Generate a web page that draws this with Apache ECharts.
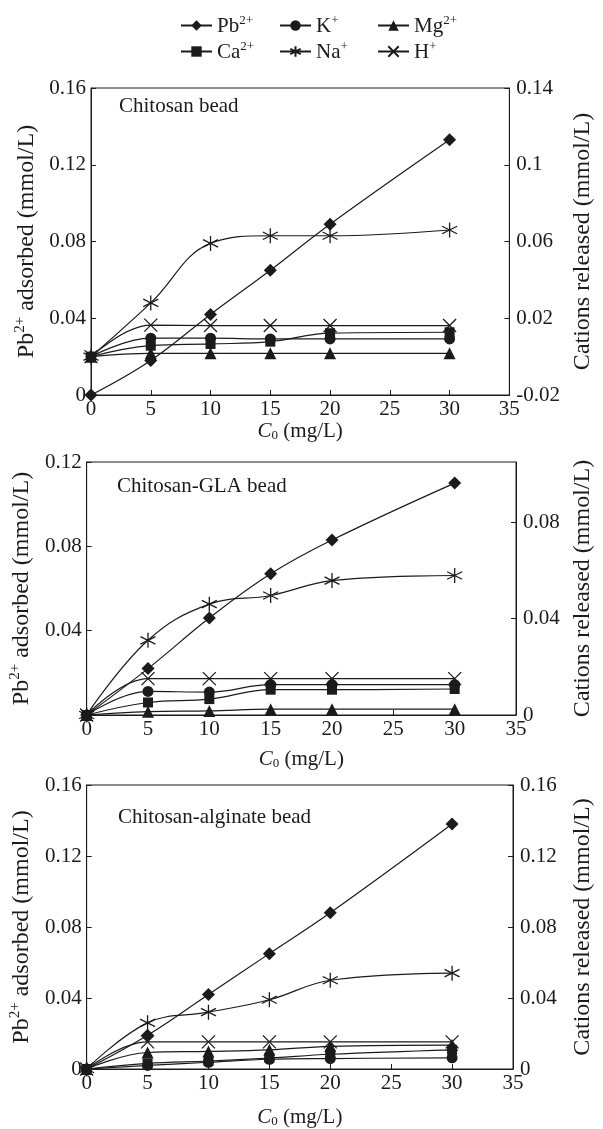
<!DOCTYPE html>
<html>
<head>
<meta charset="utf-8">
<script src="https://cdn.jsdelivr.net/npm/echarts@6/dist/echarts.min.js"></script>
<style>
html,body{margin:0;padding:0;background:#fff;}
#c{width:603px;height:1129px;}
</style>
</head>
<body>
<div id="c"></div>
<script>
// ---------------- data ----------------
const C0 = [0, 5, 10, 15, 20, 30];               // initial Pb2+ concentration (mg/L)
const panelTitles = ['Chitosan bead', 'Chitosan-GLA bead', 'Chitosan-alginate bead'];
const ionNames = ['Pb2+', 'K+', 'Mg2+', 'Ca2+', 'Na+', 'H+'];
const ionBase = ['Pb', 'K', 'Mg', 'Ca', 'Na', 'H'];
const ionCharge = ['2+', '+', '2+', '2+', '+', '+'];

// Chitosan bead
const pbChitosan = [0, 0.018, 0.042, 0.065, 0.089, 0.133];
const kChitosan  = [0, 0.0096, 0.0096, 0.0092, 0.0092, 0.0092];
const mgChitosan = [0, 0.0017, 0.0017, 0.0017, 0.0017, 0.0017];
const caChitosan = [0, 0.0057, 0.0066, 0.0078, 0.0122, 0.0127];
const naChitosan = [0, 0.028, 0.059, 0.063, 0.063, 0.066];
const hChitosan  = [0, 0.0164, 0.0162, 0.0162, 0.0162, 0.0162];

// Chitosan-GLA bead
const pbGLA = [0, 0.022, 0.046, 0.067, 0.083, 0.110];
const kGLA  = [0, 0.0098, 0.0095, 0.0126, 0.0126, 0.0126];
const mgGLA = [0, 0.0014, 0.0017, 0.0024, 0.0024, 0.0024];
const caGLA = [0, 0.0052, 0.0066, 0.0105, 0.0105, 0.0108];
const naGLA = [0, 0.031, 0.046, 0.0496, 0.0558, 0.0579];
const hGLA  = [0, 0.0151, 0.0151, 0.0151, 0.0151, 0.0151];

// Chitosan-alginate bead
const pbAlg = [0, 0.019, 0.042, 0.065, 0.088, 0.138];
const kAlg  = [0, 0.002, 0.0038, 0.0055, 0.0059, 0.0063];
const mgAlg = [0, 0.0093, 0.0099, 0.0108, 0.0128, 0.0135];
const caAlg = [0, 0.0032, 0.0045, 0.0062, 0.0083, 0.0108];
const naAlg = [0, 0.026, 0.032, 0.039, 0.050, 0.054];
const hAlg  = [0, 0.0153, 0.0153, 0.0153, 0.0153, 0.0153];

// axis ranges [min, max, interval]
const xRange = [0, 35, 5];
const leftRanges  = [[0, 0.16, 0.04], [0, 0.12, 0.04], [0, 0.16, 0.04]];
const rightRanges = [[-0.02, 0.14, 0.04], [0, 0.105, 0.04], [0, 0.16, 0.04]];

// ---------------- styling ----------------
const F = 'Liberation Serif';
const INK = '#1b1b1b';
const FS = 21;
const NFS = 24;

const rich = {
  n:   {fontFamily: F, fontSize: FS, color: INK, verticalAlign: 'bottom'},
  s:   {fontFamily: F, fontSize: 13, color: INK, verticalAlign: 'bottom', padding: [0, 0, 10, 0]},
  i:   {fontFamily: F, fontSize: FS, color: INK, fontStyle: 'italic', verticalAlign: 'bottom'},
  sub: {fontFamily: F, fontSize: 13, color: INK, verticalAlign: 'bottom'},
  N:   {fontFamily: F, fontSize: NFS, color: INK, verticalAlign: 'bottom'},
  S:   {fontFamily: F, fontSize: 15, color: INK, verticalAlign: 'bottom', padding: [0, 0, 11, 0]}
};

const ASTERISK = 'path://M5,0L5,10M0.7,2.5L9.3,7.5M0.7,7.5L9.3,2.5';
const CROSS = 'path://M0,0L10,10M0,10L10,0';

const symbols = {
  'Pb2+': {symbol: 'diamond', size: 13, hollow: false},
  'K+':   {symbol: 'circle', size: 11, hollow: false},
  'Mg2+': {symbol: 'triangle', size: 12, hollow: false},
  'Ca2+': {symbol: 'rect', size: 10, hollow: false},
  'Na+':  {symbol: ASTERISK, size: 15, hollow: true},
  'H+':   {symbol: CROSS, size: 13, hollow: true}
};

const grids = [
  {left: 91, right: 70, top: 88, height: 307},
  {left: 83, right: 67, top: 462, height: 253},
  {left: 83, right: 71, top: 785, height: 297}
];
const xNameGaps = [23, 34, 38];
const leftNameGaps = [48, 42, 44];
const rightNameGaps = [55, 55, 58];

function mkSeries(name, arr, g, right) {
  const s = symbols[name];
  return {
    type: 'line',
    name: name,
    xAxisIndex: g,
    yAxisIndex: 2 * g + (right ? 1 : 0),
    data: C0.map((x, i) => [x, arr[i]]),
    smooth: 0.4,
    symbol: s.symbol,
    symbolSize: s.size,
    showAllSymbol: true,
    lineStyle: {color: INK, width: 1.2},
    itemStyle: s.hollow
      ? {color: 'rgba(0,0,0,0)', borderColor: INK, borderWidth: 1.3}
      : {color: INK, borderWidth: 0},
    emphasis: {disabled: true},
    animation: false
  };
}

const panelData = [
  [pbChitosan, kChitosan, mgChitosan, caChitosan, naChitosan, hChitosan],
  [pbGLA, kGLA, mgGLA, caGLA, naGLA, hGLA],
  [pbAlg, kAlg, mgAlg, caAlg, naAlg, hAlg]
];

const series = [];
panelData.forEach((arrs, g) => {
  arrs.forEach((arr, k) => {
    series.push(mkSeries(ionNames[k], arr, g, k !== 0));
  });
});

const xAxes = grids.map((gr, g) => ({
  type: 'value', gridIndex: g,
  min: xRange[0], max: xRange[1], interval: xRange[2],
  axisLine: {show: true, lineStyle: {color: INK, width: 1}},
  axisTick: {show: true, inside: true, length: 5, lineStyle: {color: INK}},
  axisLabel: {fontFamily: F, fontSize: FS, color: INK, margin: 4},
  splitLine: {show: false},
  name: '{i|C}{sub|0}{n| (mg/L)}',
  nameLocation: 'middle',
  nameGap: xNameGaps[g],
  nameTextStyle: {rich: rich}
}));

const yAxes = [];
grids.forEach((gr, g) => {
  const L = leftRanges[g], R = rightRanges[g];
  yAxes.push({
    type: 'value', gridIndex: g, position: 'left',
    min: L[0], max: L[1], interval: L[2],
    axisLine: {show: true, lineStyle: {color: INK, width: 1}},
    axisTick: {show: true, inside: true, length: 5, lineStyle: {color: INK}},
    axisLabel: {fontFamily: F, fontSize: FS, color: INK, margin: 5, showMinLabel: g !== 1},
    splitLine: {show: false},
    name: '{N|Pb}{S|2+}{N| adsorbed (mmol/L)}',
    nameLocation: 'middle', nameRotate: 90, nameGap: leftNameGaps[g],
    nameTextStyle: {rich: rich}
  });
  yAxes.push({
    type: 'value', gridIndex: g, position: 'right',
    min: R[0], max: R[1], interval: R[2],
    axisLine: {show: true, lineStyle: {color: INK, width: 1}},
    axisTick: {show: true, inside: true, length: 5, lineStyle: {color: INK}},
    axisLabel: {fontFamily: F, fontSize: FS, color: INK, margin: 7, showMaxLabel: g !== 1},
    splitLine: {show: false},
    name: 'Cations released (mmol/L)',
    nameLocation: 'middle', nameRotate: 90, nameGap: rightNameGaps[g],
    nameTextStyle: {fontFamily: F, fontSize: NFS, color: INK}
  });
});

const legendPos = [
  {left: 180, top: 14}, {left: 279, top: 14}, {left: 377, top: 14},
  {left: 180, top: 40}, {left: 279, top: 40}, {left: 377, top: 40}
];
const legends = ionNames.map((nm, k) => ({
  data: [nm],
  left: legendPos[k].left, top: legendPos[k].top,
  padding: 0,
  itemWidth: 31, itemHeight: 13, itemGap: 0,
  selectedMode: false,
  formatter: () => '{n|' + ionBase[k] + '}{s|' + ionCharge[k] + '}',
  textStyle: {fontFamily: F, fontSize: FS, color: INK, rich: rich}
}));

const titles = panelTitles.map((t, g) => ({
  text: t,
  left: [119, 117, 118][g],
  top: [96, 476, 807][g],
  padding: 0,
  textStyle: {fontFamily: F, fontSize: FS, fontWeight: 'normal', color: INK}
}));

const chart = echarts.init(document.getElementById('c'), null, {renderer: 'canvas'});
chart.setOption({
  animation: false,
  backgroundColor: '#ffffff',
  title: titles,
  legend: legends,
  grid: grids.map(g => Object.assign({show: true, borderColor: INK, borderWidth: 1, backgroundColor: 'transparent'}, g)),
  xAxis: xAxes,
  yAxis: yAxes,
  series: series
});
</script>
</body>
</html>
